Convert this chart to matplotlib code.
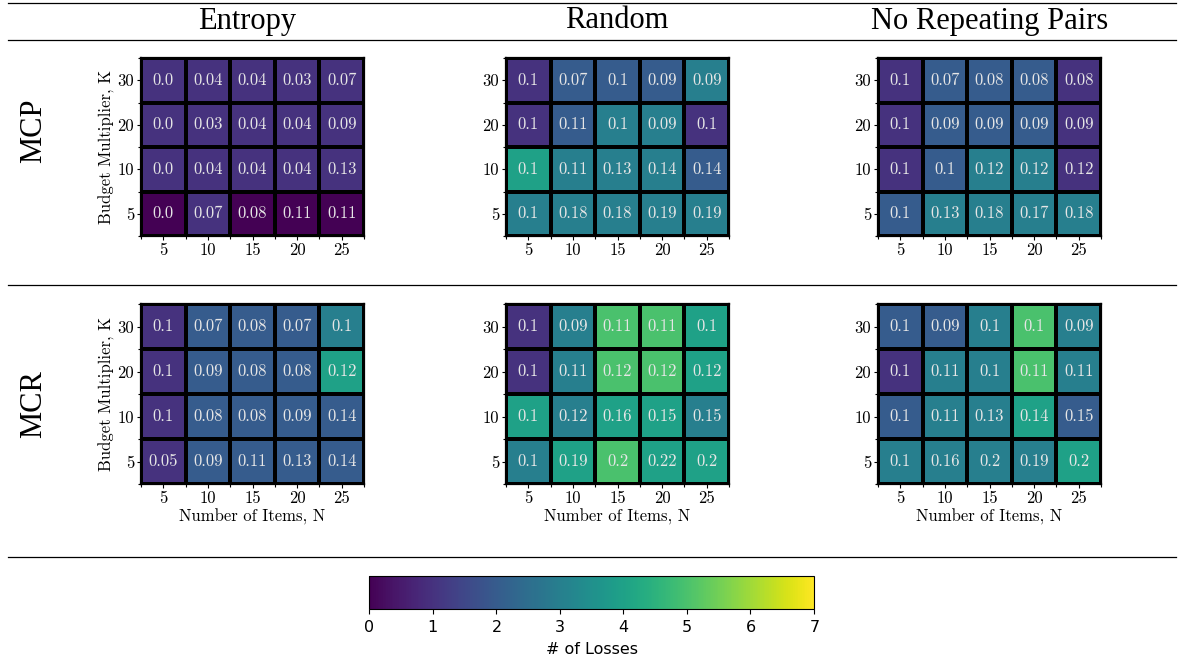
import numpy as np
import matplotlib
matplotlib.use("Agg")
import matplotlib.pyplot as plt
from matplotlib.lines import Line2D
from matplotlib.cm import ScalarMappable
from matplotlib.colors import Normalize

plt.rcParams['axes.formatter.use_mathtext'] = True

methods = ["Entropy", "Random", "No Repeating Pairs"]
problems = ["MCP", "MCR"]
n_items = [5, 10, 15, 20, 25]
budget_k = [30, 20, 10, 5]  # rows from top to bottom

# number of losses (cell colour), rows ordered K=30,20,10,5
losses_mcp_entropy = [[1, 1, 1, 1, 1], [1, 1, 1, 1, 1], [1, 1, 1, 1, 1], [0, 1, 0, 0, 0]]
losses_mcp_random = [[1, 2, 2, 2, 3], [1, 2, 3, 3, 1], [4, 3, 3, 3, 2], [3, 3, 3, 3, 3]]
losses_mcp_norep = [[1, 2, 2, 2, 1], [1, 2, 2, 2, 1], [1, 2, 3, 3, 1], [2, 3, 3, 3, 3]]
losses_mcr_entropy = [[1, 2, 2, 2, 3], [1, 2, 2, 2, 4], [1, 2, 2, 2, 2], [1, 2, 2, 2, 2]]
losses_mcr_random = [[1, 3, 5, 5, 4], [1, 3, 5, 5, 4], [4, 3, 4, 4, 3], [3, 4, 5, 4, 4]]
losses_mcr_norep = [[2, 2, 3, 5, 3], [1, 3, 3, 5, 3], [2, 3, 3, 4, 2], [3, 3, 3, 3, 4]]

# annotated score in each cell
score_mcp_entropy = [[0.0, 0.04, 0.04, 0.03, 0.07], [0.0, 0.03, 0.04, 0.04, 0.09],
                     [0.0, 0.04, 0.04, 0.04, 0.13], [0.0, 0.07, 0.08, 0.11, 0.11]]
score_mcp_random = [[0.1, 0.07, 0.1, 0.09, 0.09], [0.1, 0.11, 0.1, 0.09, 0.1],
                    [0.1, 0.11, 0.13, 0.14, 0.14], [0.1, 0.18, 0.18, 0.19, 0.19]]
score_mcp_norep = [[0.1, 0.07, 0.08, 0.08, 0.08], [0.1, 0.09, 0.09, 0.09, 0.09],
                   [0.1, 0.1, 0.12, 0.12, 0.12], [0.1, 0.13, 0.18, 0.17, 0.18]]
score_mcr_entropy = [[0.1, 0.07, 0.08, 0.07, 0.1], [0.1, 0.09, 0.08, 0.08, 0.12],
                     [0.1, 0.08, 0.08, 0.09, 0.14], [0.05, 0.09, 0.11, 0.13, 0.14]]
score_mcr_random = [[0.1, 0.09, 0.11, 0.11, 0.1], [0.1, 0.11, 0.12, 0.12, 0.12],
                    [0.1, 0.12, 0.16, 0.15, 0.15], [0.1, 0.19, 0.2, 0.22, 0.2]]
score_mcr_norep = [[0.1, 0.09, 0.1, 0.1, 0.09], [0.1, 0.11, 0.1, 0.11, 0.11],
                   [0.1, 0.11, 0.13, 0.14, 0.15], [0.1, 0.16, 0.2, 0.19, 0.2]]

losses = [[losses_mcp_entropy, losses_mcp_random, losses_mcp_norep],
          [losses_mcr_entropy, losses_mcr_random, losses_mcr_norep]]
scores = [[score_mcp_entropy, score_mcp_random, score_mcp_norep],
          [score_mcr_entropy, score_mcr_random, score_mcr_norep]]

W, H = 1184, 666
fig = plt.figure(figsize=(W / 100, H / 100), dpi=100)
CM = 'cmr10'


def px_rect(x0, y0, w, h):
    return [x0 / W, 1 - (y0 + h) / H, w / W, h / H]


def hline(y, x0=8, x1=1176):
    fig.add_artist(Line2D([x0 / W, x1 / W], [1 - y / H, 1 - y / H],
                          color='black', linewidth=0.9))


for y in [3, 40, 285, 557]:
    hline(y)

col_left = [141, 506, 878]
row_top = [58, 304]
ax_w, ax_h = 223, 178
title_x = [247, 617, 990]

norm = Normalize(vmin=0, vmax=7)
cmap = plt.get_cmap('viridis')

for j, name in enumerate(methods):
    fig.text(title_x[j] / W, 1 - 21 / H, name, ha='center', va='center',
             fontsize=22, family='Liberation Serif')

row_label_y = [131, 404]
for i, name in enumerate(problems):
    fig.text(34 / W, 1 - row_label_y[i] / H, name, ha='center', va='center',
             rotation=90, fontsize=22, family='Liberation Serif')

for i in range(2):
    for j in range(3):
        ax = fig.add_axes(px_rect(col_left[j], row_top[i], ax_w, ax_h + (2 if i else 0)))
        c = np.array(losses[i][j])
        s = scores[i][j]
        ax.pcolormesh(np.arange(6), np.arange(5), c, cmap=cmap, norm=norm,
                      edgecolors='black', linewidth=1.6)
        ax.set_xlim(0, 5)
        ax.set_ylim(4, 0)
        for r in range(4):
            for k in range(5):
                ax.text(k + 0.5, r + 0.5, str(s[r][k]), ha='center', va='center',
                        color='#e6e6e6', fontsize=12, family=CM)
        ax.set_xticks(np.arange(5) + 0.5)
        ax.set_xticklabels([str(v) for v in n_items], fontsize=12, family=CM)
        ax.set_yticks(np.arange(4) + 0.5)
        ax.set_yticklabels([str(v) for v in budget_k], fontsize=12, family=CM)
        ax.set_xticks(np.arange(6), minor=True)
        ax.set_yticks(np.arange(5), minor=True)
        ax.tick_params(which='major', length=3, width=0.8, pad=2)
        ax.tick_params(which='minor', length=2.5, width=0.8)
        for sp in ax.spines.values():
            sp.set_linewidth(1.6)
        if j == 0:
            ax.set_ylabel('Budget Multiplier, K', fontsize=12, family=CM, labelpad=2)
        if i == 1:
            ax.set_xlabel('Number of Items, N', fontsize=12, family=CM, labelpad=2)

cax = fig.add_axes(px_rect(369, 576, 445, 33))
cb = fig.colorbar(ScalarMappable(norm=norm, cmap=cmap), cax=cax, orientation='horizontal')
cb.set_ticks(range(8))
cb.ax.tick_params(labelsize=11.5)
cb.set_label('# of Losses', fontsize=11.5, labelpad=5)

fig.savefig('out.png', dpi=100)
